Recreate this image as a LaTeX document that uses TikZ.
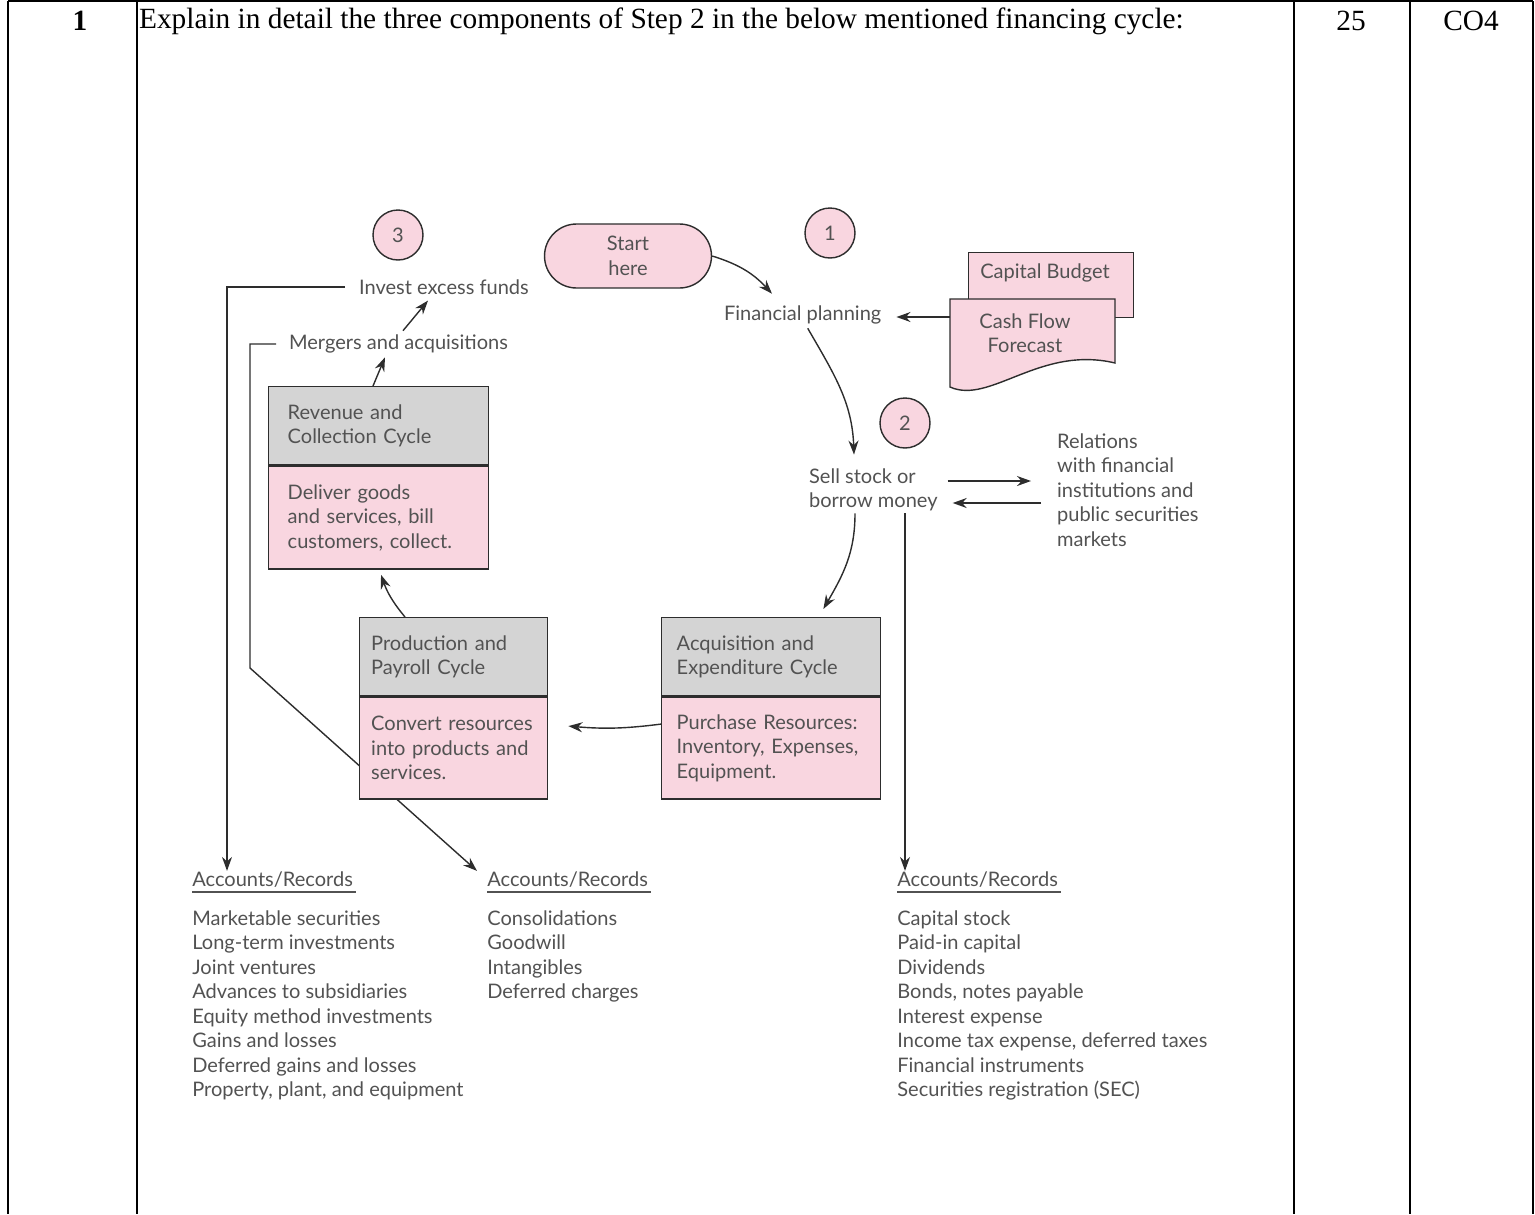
\documentclass[tikz,border=0pt]{standalone}
\usepackage{fontspec}
\setmainfont{Liberation Serif}
\newfontfamily\figfont{Lato}
\usetikzlibrary{positioning, arrows.meta, calc}

\definecolor{cyclepink}{RGB}{249,214,224}
\definecolor{cyclegray}{RGB}{212,212,212}
\definecolor{inkgray}{RGB}{82,82,82}
\definecolor{linegray}{RGB}{45,45,45}

\newcommand{\hdrfont}{\fontsize{16.7}{19}\selectfont}

\tikzset{
  fig/.style={font=\figfont\fontsize{11.4}{13.94}\selectfont, text=inkgray},
  lbl/.style={fig, inner sep=1pt},
  stepnum/.style={fig, circle, draw=linegray, fill=cyclepink, minimum size=1cm, inner sep=0pt, line width=0.8pt},
  cychead/.style={fig, draw=linegray, fill=cyclegray, line width=0.8pt, align=left, inner xsep=0.3cm, minimum height=1.56cm},
  cycbody/.style={fig, draw=linegray, fill=cyclepink, line width=0.8pt, align=left, inner xsep=0.3cm, minimum height=2.04cm},
  arr/.style={-{Stealth[length=2.8mm,width=2mm]}, draw=linegray, line width=0.8pt},
  gridline/.style={line width=1.1pt},
}

\begin{document}
\begin{tikzpicture}[x=0.02cm, y=-0.02cm]
\useasboundingbox (0,0) rectangle (1535,1214);

% question table
\draw[gridline] (8,1) -- (1533,1);
\foreach \x in {8,137,1294,1410,1533}
    \draw[gridline] (\x,1) -- (\x,1214);
\node[font=\hdrfont\bfseries] (qno) at (80,21) {1};
\node[font=\hdrfont, anchor=west, inner sep=1pt] (qtext) at (137,21)
    {Explain in detail the three components of Step 2 in the below mentioned financing cycle:};
\node[font=\hdrfont] (marks) at (1351,21) {25};
\node[font=\hdrfont] (colabel) at (1471,21) {CO4};

% step numbers and start
\node[stepnum] (n3) at (398,235) {3};
\node[stepnum] (n1) at (830,233) {1};
\node[stepnum] (n2) at (905,423) {2};
\node[fig, draw=linegray, fill=cyclepink, line width=0.8pt, rounded corners=0.64cm,
      minimum width=3.34cm, minimum height=1.28cm, align=center] (start) at (628,256) {Start\\here};

% free labels
\node[lbl, anchor=west] (invest) at (357,287) {Invest excess funds};
\node[lbl, anchor=west] (merge) at (287,344) {Mergers and acquisitions};
\node[lbl, anchor=west] (plan) at (722,315) {Financial planning};
\node[lbl, anchor=west, align=left] (sell) at (807,490) {Sell stock or\\borrow money};
\node[lbl, anchor=west, align=left] (rel) at (1055,490)
    {Relations\\with financial\\institutions and\\public securities\\markets};

% accounts and records
\node[lbl, anchor=base west, inner sep=0pt] (acc1) at (192,886) {Accounts/Records};
\node[lbl, anchor=base west, inner sep=0pt] (acc2) at (487,886) {Accounts/Records};
\node[lbl, anchor=base west, inner sep=0pt] (acc3) at (897,886) {Accounts/Records};
\foreach \a in {acc1,acc2,acc3}
    \draw[line width=1.2pt, inkgray] ($(\a.base west)+(0,6)$) -- ($(\a.base east)+(3,6)$);
\node[lbl, anchor=north west, align=left, inner sep=0pt] (list1) at (192,910)
    {Marketable securities\\Long-term investments\\Joint ventures\\Advances to subsidiaries\\
     Equity method investments\\Gains and losses\\Deferred gains and losses\\Property, plant, and equipment};
\node[lbl, anchor=north west, align=left, inner sep=0pt] (list2) at (487,910)
    {Consolidations\\Goodwill\\Intangibles\\Deferred charges};
\node[lbl, anchor=north west, align=left, inner sep=0pt] (list3) at (897,910)
    {Capital stock\\Paid-in capital\\Dividends\\Bonds, notes payable\\Interest expense\\
     Income tax expense, deferred taxes\\Financial instruments\\Securities registration (SEC)};

% feeds into the records (behind the boxes)
\coordinate (mbend) at (250,668);
\draw[arr] ($(invest.west)+(-12,0)$) -| ($(acc1.north west)+(35,0)$);
\draw[arr] ($(merge.west)+(-11,0)$) -| (mbend) -- ($(acc2.north west)+(-10,0)$);
\draw[arr] (n2 |- sell.south) -- (n2 |- acc3.north);

% budget documents
\node[draw=linegray, fill=cyclepink, line width=0.8pt, minimum width=3.3cm, minimum height=1.3cm,
      anchor=north west] (capb) at (968,252) {};
\node[lbl] (capbtxt) at (1045,273) {Capital Budget};
\draw[draw=linegray, fill=cyclepink, line width=0.8pt] (950,299) -- (1115,299) -- (1115,363)
    .. controls (1040,345) and (990,405) .. (950,387) -- cycle;
\coordinate (cashw) at (950,317);
\node[lbl, align=center] (cashf) at (1025,333) {Cash Flow\\Forecast};

% cycle boxes
\node[cychead, text width=3.64cm, inner xsep=0.38cm, anchor=north west] (revh) at (268,386)
    {Revenue and\\Collection Cycle};
\node[cycbody, text width=3.64cm, inner xsep=0.38cm, minimum height=2.06cm, below=0pt of revh] (revb)
    {Deliver goods\\and services, bill\\customers, collect.};
\node[cychead, text width=3.3cm, inner xsep=0.23cm, anchor=north west] (prodh) at (359,617)
    {Production and\\Payroll Cycle};
\node[cycbody, text width=3.3cm, inner xsep=0.23cm, below=0pt of prodh] (prodb)
    {Convert resources\\into products and\\services.};
\node[cychead, text width=3.78cm, anchor=north west] (acqh) at (661,617)
    {Acquisition and\\Expenditure Cycle};
\node[cycbody, text width=3.78cm, below=0pt of acqh] (acqb)
    {Purchase Resources:\\Inventory, Expenses,\\Equipment.};

% the cycle
\draw[arr] (start.east) to[bend left=15] ($(plan.north west)+(50,-10)$);
\draw[arr] (cashw) -- ($(plan.east)+(13,2)$);
\draw[arr] ($(plan.south)+(5,2)$) to[out=-60, in=92] ($(sell.north west)+(47,-12)$);
\draw[arr] ($(sell.south west)+(48,0)$) to[out=-90, in=60] ($(acqh.north east)+(-58,-8)$);
\draw[arr] ($(acqb.west)+(0,-24)$) to[bend left=6] ($(prodb.east)+(20,-22)$);
\draw[arr] ($(prodh.north west)+(46,0)$) to[bend left=10] ($(revb.south west)+(113,5)$);
\draw[arr] ($(revh.north west)+(105,0)$) -- ($(merge.south west)+(98,2)$);
\draw[arr] ($(merge.north west)+(116,-2)$) -- ($(invest.south west)+(71,4)$);

% step 2 relations
\draw[arr] ($(sell.east)+(8,-9)$) -- ($(rel.west)+(-24,-9)$);
\draw[arr] ($(rel.west)+(-14,13)$) -- ($(sell.east)+(13,13)$);
\end{tikzpicture}
\end{document}
